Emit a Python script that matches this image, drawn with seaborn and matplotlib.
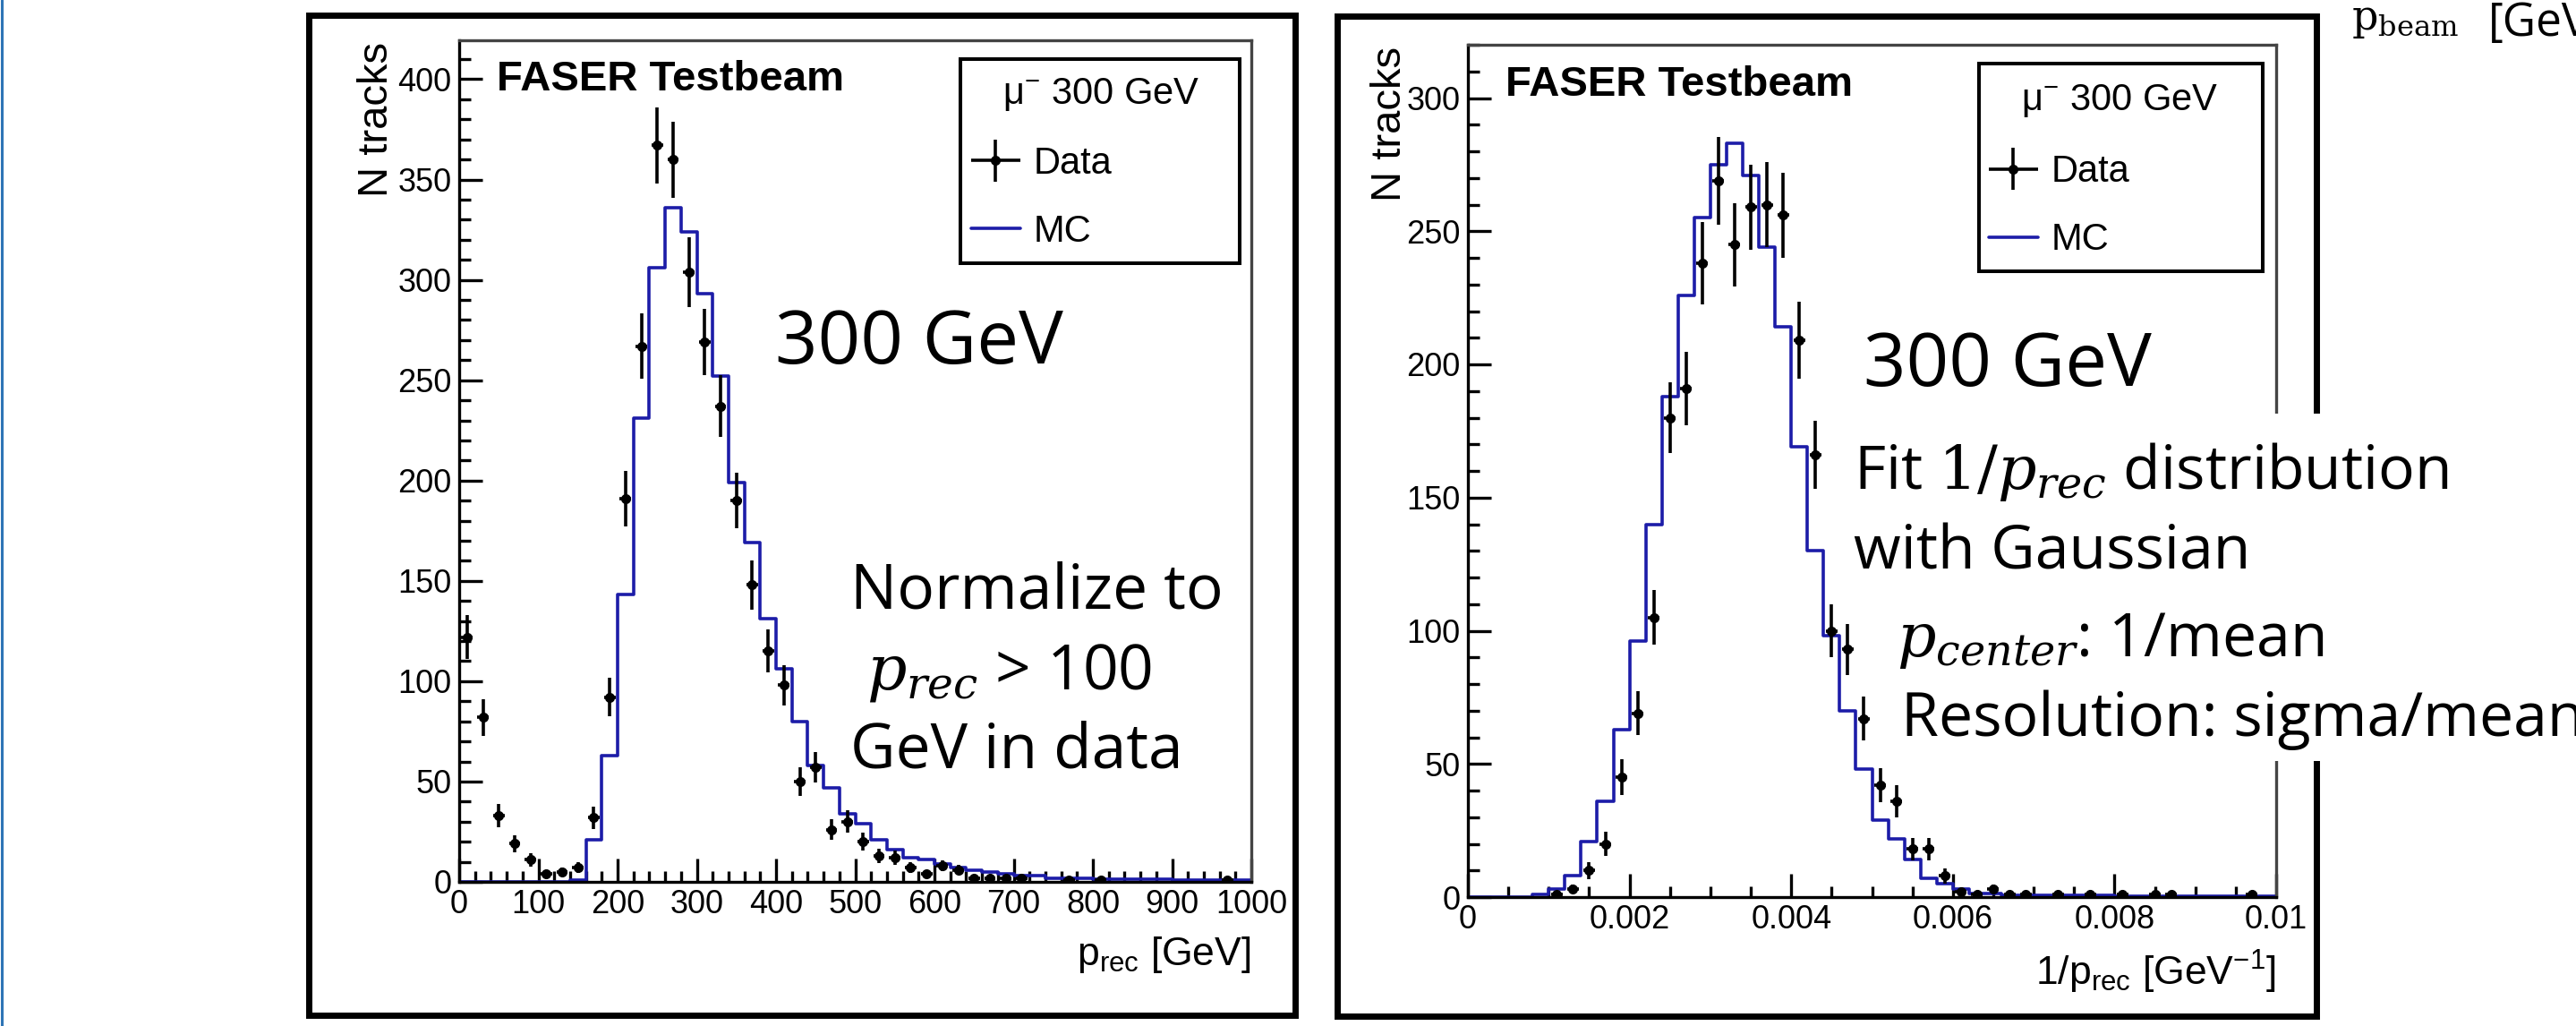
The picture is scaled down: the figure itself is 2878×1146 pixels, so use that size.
import numpy as np
import pandas as pd
import matplotlib
matplotlib.use("Agg")
import matplotlib.pyplot as plt
import seaborn as sns
from matplotlib.patches import Rectangle
from matplotlib.lines import Line2D
from matplotlib.ticker import MultipleLocator
from matplotlib.container import ErrorbarContainer
from matplotlib.legend_handler import HandlerErrorbar

# ---------------- data ----------------
# reconstructed momentum, 20 GeV bins from 0 to 1000 GeV
p_bin_edges = list(range(0, 1001, 20))
p_data = [122, 82, 33, 19, 11, 4, 5, 7, 32, 92,
          191, 267, 367, 360, 304, 269, 237, 190, 148, 115,
          98, 50, 57, 26, 30, 20, 13, 12, 7, 4,
          8, 6, 2, 2, 2, 2, 0, 0, 1, 0,
          1, 0, 0, 0, 0, 0, 0, 0, 1, 0]
p_mc = [0, 0, 0, 0, 0, 0, 0, 1, 21, 63,
        143, 231, 306, 336, 324, 293, 252, 199, 169, 131,
        106, 80, 58, 47, 34, 29, 21, 16, 12, 11,
        9, 7, 6, 5, 4, 3, 3, 2, 2, 2,
        1.5, 1.5, 1.5, 1.5, 1.5, 1, 1, 1, 1, 1]

# inverse momentum, 0.0002 GeV^-1 bins from 0 to 0.01
inv_bin_edges = [round(0.0002 * i, 6) for i in range(51)]
inv_data = [0, 0, 0, 0, 0, 1, 3, 10, 20, 45,
            69, 105, 180, 191, 238, 269, 245, 259, 260, 256,
            209, 166, 100, 93, 67, 42, 36, 18, 18, 8,
            2, 1, 3, 1, 1, 0, 1, 0, 1, 0,
            1, 0, 1, 1, 0, 0, 0, 0, 1, 0]
inv_mc = [0, 0, 0, 0, 1, 3, 8, 21, 36, 63,
          96, 140, 188, 226, 255, 275, 283, 271, 244, 214,
          169, 130, 98, 70, 48, 29, 22, 14, 7, 5,
          3, 1.5, 1.5, 0.8, 0.8, 0.8, 0.8, 0.8, 0.8, 0.8,
          0.3, 0.3, 0.3, 0.3, 0.3, 0.3, 0.3, 0.3, 0.3, 0.3]

p_ticks = [0, 100, 200, 300, 400, 500, 600, 700, 800, 900, 1000]
p_tick_labels = ["0", "100", "200", "300", "400", "500", "600", "700", "800", "900", "1000"]
inv_ticks = [0, 0.002, 0.004, 0.006, 0.008, 0.01]
inv_tick_labels = ["0", "0.002", "0.004", "0.006", "0.008", "0.01"]
p_count_ticks = [0, 50, 100, 150, 200, 250, 300, 350, 400]
inv_count_ticks = [0, 50, 100, 150, 200, 250, 300]

legend_title = "\u03bc$^{-}$ 300 GeV"
legend_labels = ["Data", "MC"]

# ---------------- style ----------------
W, H, DPI = 2878, 1146, 100
sns.set_theme(style="white")
plt.rcParams.update({
    "font.family": ["Liberation Sans", "DejaVu Sans"],
    "mathtext.fontset": "custom",
    "mathtext.rm": "Liberation Sans",
    "mathtext.it": "DejaVu Serif:italic",
    "mathtext.sf": "DejaVu Serif",
    "mathtext.bf": "Liberation Sans:bold",
    "text.color": "black",
    "axes.labelcolor": "black",
    "xtick.color": "black",
    "ytick.color": "black",
    "axes.edgecolor": "black",
    "figure.facecolor": "white",
    "axes.facecolor": "white",
})
MC_BLUE = "#1c1ca8"
NOTE_FONT = ["Open Sans", "DejaVu Sans"]

fig = plt.figure(figsize=(W / DPI, H / DPI), dpi=DPI)


def fx(px):
    return px / W


def fy(py):
    return 1 - py / H


ax_p = fig.add_axes([fx(513), fy(985), 885 / W, 940 / H])
ax_inv = fig.add_axes([fx(1640), fy(1002), 903 / W, 952 / H])


def draw_panel(ax, edges, data, mc, xlim, ylim, xticks, xticklabels, yticks,
               xminor, xlabel, xlabel_y, ylabel_x, legend_anchor, title_xy, box):
    edge_arr = np.asarray(edges, float)
    centers = 0.5 * (edge_arr[:-1] + edge_arr[1:])
    width = edge_arr[1] - edge_arr[0]

    # MC expectation as an outlined step histogram
    mc_df = pd.DataFrame({"x": centers, "w": np.asarray(mc, float)})
    sns.histplot(data=mc_df, x="x", weights="w", bins=list(edges), element="step",
                 fill=False, color=MC_BLUE, linewidth=2.6, ax=ax, zorder=2)
    mc_line = ax.lines[-1]

    # data with Poisson errors, empty bins are not drawn
    data = np.asarray(data, float)
    keep = data > 0
    eb = ax.errorbar(centers[keep], data[keep], yerr=np.sqrt(data[keep]),
                     xerr=0.36 * width, fmt="o", color="black", ms=7,
                     elinewidth=2.6, capsize=0, zorder=3)

    ax.set_xlim(*xlim)
    ax.set_ylim(*ylim)
    ax.set_xticks(xticks, xticklabels)
    ax.set_yticks(yticks, [str(v) for v in yticks])
    ax.xaxis.set_minor_locator(MultipleLocator(xminor))
    ax.yaxis.set_minor_locator(MultipleLocator(10))
    ax.tick_params(which="both", direction="in", bottom=True, left=True,
                   top=False, right=False)
    ax.tick_params(which="major", length=19, width=2.4, labelsize=26, pad=6)
    ax.tick_params(which="minor", length=9, width=2.4)
    for name, sp in ax.spines.items():
        sp.set_linewidth(2.4)
        sp.set_color("black" if name in ("left", "bottom") else "#444444")

    ax.set_xlabel(xlabel, fontsize=32, loc="right", va="baseline")
    ax.xaxis.set_label_coords(1.0, xlabel_y)
    ax.set_ylabel("N tracks", fontsize=34, loc="top", va="baseline")
    ax.yaxis.set_label_coords(ylabel_x, 0.998)

    ax.text(0.047, 0.940, "FASER Testbeam", transform=ax.transAxes,
            fontsize=34, fontweight="bold", va="baseline")

    # legend: framed box, centred title, then the Data / MC rows
    bx, by, bw, bh = box
    ax.add_patch(Rectangle((bx, by), bw, bh, transform=ax.transAxes, fc="white",
                           ec="black", lw=2.9, zorder=6, clip_on=False))
    ax.text(title_xy[0], title_xy[1], legend_title, transform=ax.transAxes,
            ha="center", va="center", fontsize=30, zorder=7)
    leg = ax.legend([eb, mc_line], legend_labels, loc="upper left",
                    bbox_to_anchor=legend_anchor, borderaxespad=0, borderpad=0,
                    frameon=False, fontsize=30, handlelength=1.32,
                    handletextpad=0.36, labelspacing=0.86,
                    handler_map={ErrorbarContainer: HandlerErrorbar(xerr_size=0.66, yerr_size=0.56)})
    leg.set_zorder(8)


draw_panel(ax_p, p_bin_edges, p_data, p_mc, (0, 1000), (0, 419.4),
           p_ticks, p_tick_labels, p_count_ticks, 20,
           r"$\mathrm{p_{rec}}$ [GeV]", -0.099, -0.0904,
           (0.6463, 0.8746), (0.810, 0.936), (0.6328, 0.7351, 0.3525, 0.2426))

draw_panel(ax_inv, inv_bin_edges, inv_data, inv_mc, (0, 0.01), (0, 320),
           inv_ticks, inv_tick_labels, inv_count_ticks, 0.0005,
           r"1/$\mathrm{p_{rec}}$ [GeV$^{\mathrm{-1}}$]", -0.103, -0.083,
           (0.6440, 0.8715), (0.806, 0.934), (0.6323, 0.7342, 0.3511, 0.2438))

# ---------------- slide decorations ----------------
fig.add_artist(Line2D([fx(1.5), fx(1.5)], [0, 1], transform=fig.transFigure,
                      color="#2E75B6", lw=2.2, zorder=1))
for x0, x1, y0, y1 in [(344.5, 1447, 17, 1134), (1494, 2588, 18, 1135)]:
    fig.add_artist(Rectangle((fx(x0), fy(y1)), (x1 - x0) / W, (y1 - y0) / H,
                             transform=fig.transFigure, fill=False, ec="black",
                             lw=5, zorder=1))
fig.add_artist(Rectangle((fx(2095), fy(850)), (W - 2095) / W, (850 - 462) / H,
                         transform=fig.transFigure, fc="white", ec="none", zorder=2))

notes = [
    (866, 406, "300 GeV", 60),
    (950, 680, "Normalize to", 50),
    (968, 769, r"$p_{rec}$ > 100", 50),
    (950, 857, "GeV in data", 50),
    (2082, 431, "300 GeV", 60),
    (2071, 546, r"Fit $\mathsf{1/}p_{rec}$ distribution", 49),
    (2071, 635, "with Gaussian", 49),
    (2119, 733, r"$p_{center}$: 1/mean", 49),
    (2124, 822, "Resolution: sigma/mean", 49),
    (2780, 40, "[GeV]", 37),
]
for x, y, s, size in notes:
    fig.text(fx(x), fy(y), s, fontsize=size, family=NOTE_FONT, va="baseline", zorder=3)
fig.text(fx(2627), fy(33), r"$\mathsf{p_{beam}}$", fontsize=33, va="baseline", zorder=3)

fig.savefig("out.png", dpi=DPI)
